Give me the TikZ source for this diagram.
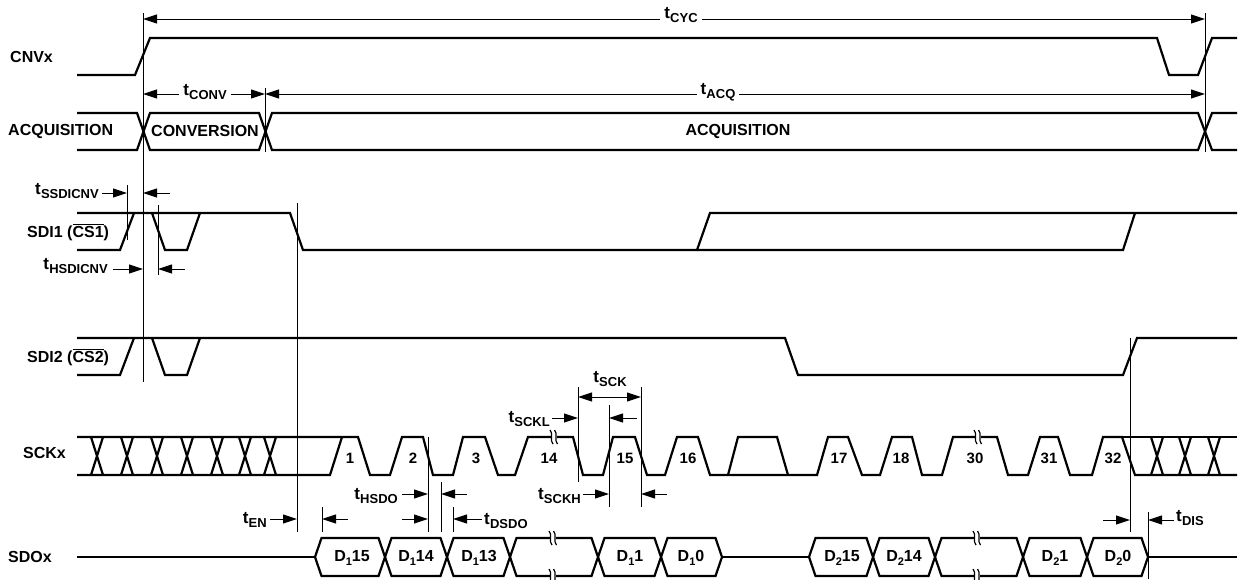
\documentclass[tikz,border=0pt]{standalone}
\usepackage{fontspec}
\setmainfont{Liberation Sans}
\usetikzlibrary{arrows.meta}
\newcommand{\tsig}[1]{{\fontsize{17}{17}\selectfont t}\kern0.2pt\raisebox{-4pt}{\fontsize{13}{13}\selectfont #1}}
\newcommand{\dsig}[2]{D\raisebox{-3.5pt}{\fontsize{11}{11}\selectfont #1}#2}
\newcommand{\ovbar}[1]{\leavevmode\vbox{\hrule height 1.3pt\kern1.2pt\hbox{#1}}}
\tikzset{
  wave/.style={line width=2.2pt, line join=miter},
  refline/.style={line width=1pt},
  dimarr/.style={line width=1pt, -{Triangle[length=14pt,width=9pt]}},
  dimboth/.style={line width=1pt, {Triangle[length=14pt,width=9pt]}-{Triangle[length=14pt,width=9pt]}},
  lab/.style={font=\bfseries\fontsize{16}{16}\selectfont, inner sep=1pt},
  numlab/.style={font=\bfseries\fontsize{15}{15}\selectfont, inner sep=1pt},
  brk/.pic={
    \fill[white] (-2.5,-2.5) rectangle (2.5,2.5);
    \draw[line width=1.2pt] (-4,-7) .. controls (0,-3) and (-5,3) .. (-1,7);
    \draw[line width=1.2pt] (0.5,-7) .. controls (4.5,-3) and (-0.5,3) .. (3.5,7);
  }
}
\begin{document}
\begin{tikzpicture}[x=1pt,y=-1pt]
\useasboundingbox (0,0) rectangle (1257,579);

% ---------- row labels ----------
\node[lab, anchor=west] (lcnv) at (9,57) {CNVx};
\node[lab, anchor=west] (lacq) at (7,131) {ACQUISITION};
\node[lab] (lconv2) at (205,131) {CONVERSION};
\node[lab] (lacq2) at (738,131) {ACQUISITION};
\node[lab, anchor=west] (lsdi1) at (26,232) {SDI1 (\ovbar{CS1})};
\node[lab, anchor=west] (lsdi2) at (26,357) {SDI2 (\ovbar{CS2})};
\node[lab, anchor=west] (lsck) at (22,453) {SCKx};
\node[lab, anchor=west] (lsdo) at (7,557) {SDOx};

% ---------- CNVx ----------
\draw[wave] (77,75)--(135,75)--(150,38)--(1157,38)--(1169,75)--(1198,75)--(1212,38)--(1237,38);

% ---------- ACQUISITION bus ----------
\draw[wave] (77,113)--(137,113)--(150,150)--(259,150)--(272,113)--(1198,113)--(1212,150)--(1237,150);
\draw[wave] (77,150)--(137,150)--(150,113)--(259,113)--(272,150)--(1198,150)--(1212,113)--(1237,113);

% ---------- SDI1 ----------
\draw[wave] (77,213)--(290,213)--(303,250)--(697,250)--(710,213)--(1237,213);
\draw[wave] (77,250)--(120,250)--(134,213);
\draw[wave] (152,213)--(165,250)--(187,250)--(200,213);
\draw[wave] (697,250)--(1123,250)--(1135,213);

% ---------- SDI2 ----------
\draw[wave] (77,338)--(785,338)--(798,375)--(1123,375)--(1137,338)--(1237,338);
\draw[wave] (77,375)--(120,375)--(134,338);
\draw[wave] (152,338)--(165,375)--(187,375)--(200,338);

% ---------- SCKx ----------
\draw[wave] (77,437)--(358,437)--(370,475)--(390,475)--(402,437)--(423,437)--(433,475)--(453,475)--(463,437)--(485,437)--(498,475)--(515,475)--(528,437)--(573,437)--(583,475)--(603,475)--(613,437)--(635,437)--(647,475)--(665,475)--(677,437)--(698,437)--(710,475)--(817,475)--(828,437)--(848,437)--(862,475)--(880,475)--(892,437)--(912,437)--(922,475)--(942,475)--(953,437)--(997,437)--(1008,475)--(1028,475)--(1040,437)--(1058,437)--(1070,475)--(1092,475)--(1103,437)--(1122,437)--(1135,475)--(1237,475);
\draw[wave] (1122,437)--(1237,437);
\draw[wave] (728,475)--(738,437)--(777,437)--(788,475);
\draw[wave] (77,475)--(330,475)--(342,437);
\foreach \c in {97,127,157,187,217,245,270,1157,1185,1214}{
  \draw[wave] (\c-6,437)--(\c+6,475) (\c-6,475)--(\c+6,437);
}
\pic at (554,437) {brk};
\pic at (978,437) {brk};
\foreach \n/\x in {1/350,2/413,3/476,14/549,15/625,16/688,17/839,18/901,30/975,31/1049,32/1113}{
  \node[numlab] (ck\n) at (\x,458) {\n};
}

% ---------- SDOx ----------
\draw[wave] (77,557)--(315,557);
\draw[wave] (722,557)--(809,557);
\draw[wave] (1148,557)--(1237,557);
\foreach \a/\b in {315/385,385/447,447/510,510/598,598/661,661/722,809/873,873/935,935/1023,1023/1087,1087/1148}{
  \draw[wave] (\a,557)--(\a+6.5,538)--(\b-6.5,538)--(\b,557)--(\b-6.5,576)--(\a+6.5,576)--cycle;
}
\node[lab] (d115) at (352,558) {\dsig{1}{15}};
\node[lab] (d114) at (416,558) {\dsig{1}{14}};
\node[lab] (d113) at (479,558) {\dsig{1}{13}};
\node[lab] (d11) at (630,558) {\dsig{1}{1}};
\node[lab] (d10) at (691,558) {\dsig{1}{0}};
\node[lab] (d215) at (842,558) {\dsig{2}{15}};
\node[lab] (d214) at (904,558) {\dsig{2}{14}};
\node[lab] (d21) at (1055,558) {\dsig{2}{1}};
\node[lab] (d20) at (1118,558) {\dsig{2}{0}};
\pic at (553,538) {brk};
\pic at (553,576) {brk};
\pic at (977,538) {brk};
\pic at (977,576) {brk};

% ---------- reference lines ----------
\draw[refline] (143,13)--(143,382);
\draw[refline] (1205,13)--(1205,152);
\draw[refline] (265,88)--(265,152);
\draw[refline] (127,185)--(127,240);
\draw[refline] (158,205)--(158,275);
\draw[refline] (297,203)--(297,532);
\draw[refline] (322,507)--(322,532);
\draw[refline] (428,437)--(428,532);
\draw[refline] (441,482)--(441,532);
\draw[refline] (453,507)--(453,532);
\draw[refline] (578,387)--(578,482);
\draw[refline] (641,387)--(641,507);
\draw[refline] (609,405)--(609,507);
\draw[refline] (1130,338)--(1130,532);
\draw[refline] (1148,512)--(1148,579);

% ---------- dimensions ----------
\draw[dimboth] (143,19)--(1205,19);
\node[lab, fill=white, inner xsep=4pt] (tcyc) at (681,15) {\tsig{CYC}};
\draw[dimboth] (143,94)--(265,94);
\node[lab, fill=white, inner xsep=4pt] (tconv) at (205,92) {\tsig{CONV}};
\draw[dimboth] (265,94)--(1205,94);
\node[lab, fill=white, inner xsep=4pt] (tacq) at (718,92) {\tsig{ACQ}};

\node[lab, anchor=east] (tss) at (100,191) {\tsig{SSDICNV}};
\draw[dimarr] (102,193)--(127,193);
\draw[dimarr] (170,193)--(143,193);

\node[lab, anchor=east] (ths) at (109,266) {\tsig{HSDICNV}};
\draw[dimarr] (113,269)--(143,269);
\draw[dimarr] (185,269)--(158,269);

\draw[dimboth] (578,397)--(641,397);
\node[lab] (tsck) at (610,379) {\tsig{SCK}};

\node[lab, anchor=east] (tsckl) at (551,419) {\tsig{SCKL}};
\draw[dimarr] (552,418)--(578,418);
\draw[dimarr] (637,418)--(609,418);

\node[lab, anchor=east] (tsckh) at (582,496) {\tsig{SCKH}};
\draw[dimarr] (583,494)--(609,494);
\draw[dimarr] (667,494)--(641,494);

\node[lab, anchor=east] (ten) at (268,520) {\tsig{EN}};
\draw[dimarr] (270,519)--(297,519);
\draw[dimarr] (348,519)--(322,519);

\node[lab, anchor=east] (thsdo) at (399,496) {\tsig{HSDO}};
\draw[dimarr] (402,494)--(428,494);
\draw[dimarr] (467,494)--(441,494);

\draw[dimarr] (402,519)--(428,519);
\draw[dimarr] (482,519)--(453,519);
\node[lab, anchor=west] (tdsdo) at (483,521) {\tsig{DSDO}};

\draw[dimarr] (1103,520)--(1130,520);
\draw[dimarr] (1174,520)--(1148,520);
\node[lab, anchor=west] (tdis) at (1175,518) {\tsig{DIS}};
\end{tikzpicture}
\end{document}
